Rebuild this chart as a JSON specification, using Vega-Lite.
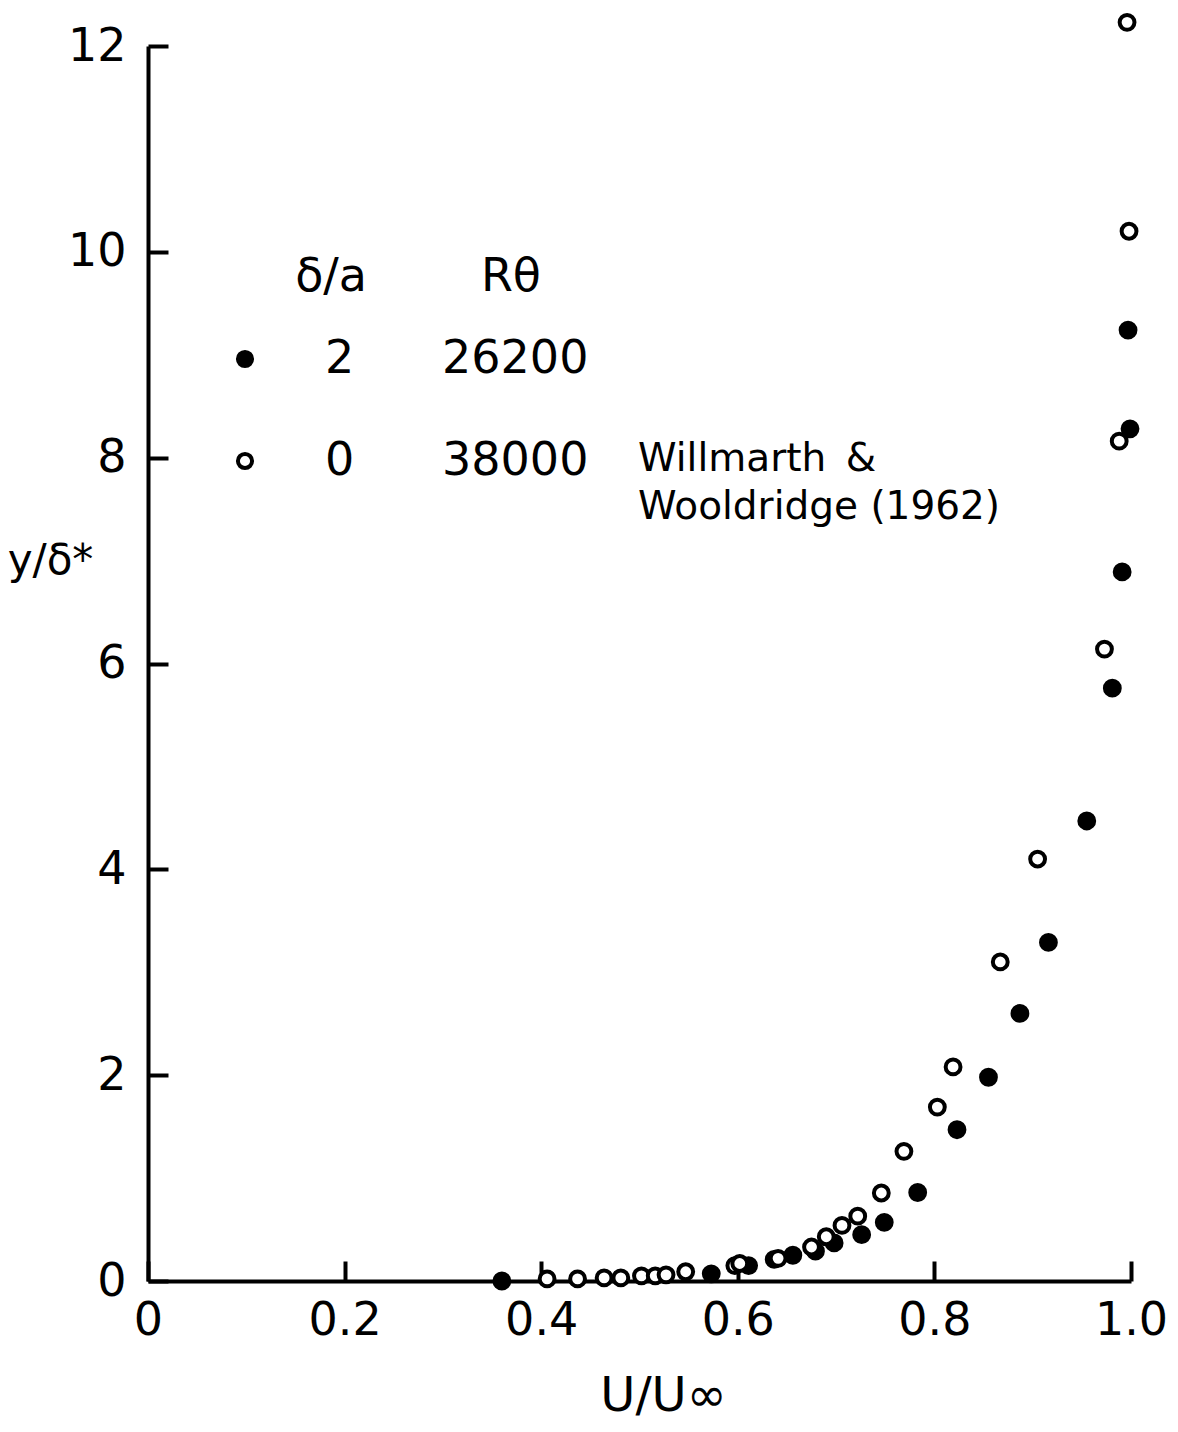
{
  "$schema": "https://vega.github.io/schema/vega-lite/v6.json",
  "autosize": {"type": "none"},
  "width": 983,
  "height": 1235,
  "padding": {"left": 148, "top": 46, "right": 47, "bottom": 151},
  "background": "white",
  "config": {
    "view": {"stroke": null},
    "font": "DejaVu Sans",
    "axis": {
      "grid": false,
      "domainColor": "black",
      "domainWidth": 4,
      "tickColor": "black",
      "tickWidth": 4,
      "tickSize": -20,
      "labelFontSize": 46,
      "labelColor": "black",
      "labelFlush": false,
      "labelOverlap": false,
      "labelBound": false,
      "titleFontSize": 48,
      "titleFontWeight": "normal",
      "titleColor": "black"
    }
  },
  "data": {
    "values": [
      {"u": 0.360, "y": 0.00, "da": "2"},
      {"u": 0.573, "y": 0.07, "da": "2"},
      {"u": 0.611, "y": 0.15, "da": "2"},
      {"u": 0.637, "y": 0.21, "da": "2"},
      {"u": 0.656, "y": 0.25, "da": "2"},
      {"u": 0.679, "y": 0.29, "da": "2"},
      {"u": 0.698, "y": 0.37, "da": "2"},
      {"u": 0.726, "y": 0.45, "da": "2"},
      {"u": 0.749, "y": 0.57, "da": "2"},
      {"u": 0.783, "y": 0.86, "da": "2"},
      {"u": 0.823, "y": 1.47, "da": "2"},
      {"u": 0.855, "y": 1.98, "da": "2"},
      {"u": 0.887, "y": 2.60, "da": "2"},
      {"u": 0.916, "y": 3.29, "da": "2"},
      {"u": 0.955, "y": 4.47, "da": "2"},
      {"u": 0.981, "y": 5.76, "da": "2"},
      {"u": 0.991, "y": 6.89, "da": "2"},
      {"u": 0.999, "y": 8.28, "da": "2"},
      {"u": 0.997, "y": 9.24, "da": "2"},
      {"u": 0.406, "y": 0.02, "da": "0"},
      {"u": 0.437, "y": 0.02, "da": "0"},
      {"u": 0.464, "y": 0.03, "da": "0"},
      {"u": 0.481, "y": 0.03, "da": "0"},
      {"u": 0.502, "y": 0.05, "da": "0"},
      {"u": 0.516, "y": 0.05, "da": "0"},
      {"u": 0.527, "y": 0.06, "da": "0"},
      {"u": 0.547, "y": 0.09, "da": "0"},
      {"u": 0.597, "y": 0.15, "da": "0"},
      {"u": 0.602, "y": 0.17, "da": "0"},
      {"u": 0.641, "y": 0.22, "da": "0"},
      {"u": 0.675, "y": 0.33, "da": "0"},
      {"u": 0.690, "y": 0.43, "da": "0"},
      {"u": 0.706, "y": 0.54, "da": "0"},
      {"u": 0.722, "y": 0.63, "da": "0"},
      {"u": 0.746, "y": 0.855, "da": "0"},
      {"u": 0.769, "y": 1.26, "da": "0"},
      {"u": 0.803, "y": 1.69, "da": "0"},
      {"u": 0.819, "y": 2.08, "da": "0"},
      {"u": 0.867, "y": 3.10, "da": "0"},
      {"u": 0.905, "y": 4.10, "da": "0"},
      {"u": 0.973, "y": 6.14, "da": "0"},
      {"u": 0.988, "y": 8.16, "da": "0"},
      {"u": 0.998, "y": 10.20, "da": "0"},
      {"u": 0.996, "y": 12.23, "da": "0"}
    ]
  },
  "layer": [
    {
      "mark": {"type": "point", "shape": "circle", "filled": true, "stroke": "black", "strokeWidth": 4, "size": 220, "opacity": 1},
      "encoding": {
        "x": {
          "field": "u", "type": "quantitative",
          "scale": {"domain": [0, 1], "nice": false, "zero": true},
          "axis": {
            "values": [0, 0.2, 0.4, 0.6, 0.8, 1.0],
            "labelExpr": "datum.value == 0 ? '0' : format(datum.value, '.1f')",
            "labelPadding": 37,
            "title": "U/U∞",
            "titleX": 515,
            "titleY": 129,
            "titleAlign": "center",
            "titleBaseline": "alphabetic"
          }
        },
        "y": {
          "field": "y", "type": "quantitative",
          "scale": {"domain": [0, 12], "nice": false},
          "axis": {
            "values": [0, 2, 4, 6, 8, 10, 12],
            "format": "d",
            "labelPadding": 42,
            "title": "y/δ*",
            "titleFontSize": 42,
            "titleAngle": 0,
            "titleX": -98,
            "titleY": 514,
            "titleAlign": "center",
            "titleBaseline": "middle"
          }
        },
        "fill": {
          "field": "da", "type": "nominal",
          "scale": {"domain": ["2", "0"], "range": ["black", "white"]},
          "legend": {
            "orient": "none",
            "legendX": 74,
            "legendY": 209,
            "padding": 0,
            "title": "\u200b\u2007\u2007\u00a0δ/a\u2007\u2007\u2007\u00a0\u2005Rθ",
            "titleFontSize": 46,
            "titleFontWeight": "normal",
            "titleColor": "black",
            "titlePadding": 35,
            "titleLimit": 600,
            "labelFontSize": 46,
            "labelColor": "black",
            "labelOffset": 57,
            "labelLimit": 600,
            "rowPadding": 56,
            "symbolType": "circle",
            "symbolSize": 200,
            "symbolStrokeWidth": 4,
            "symbolStrokeColor": "black",
            "labelExpr": "datum.label == '2' ? '2\u2007\u2007\u200726200' : '0\u2007\u2007\u200738000'"
          }
        }
      }
    },
    {
      "data": {"values": [{}]},
      "mark": {
        "type": "text",
        "text": ["Willmarth\u2002&", "Wooldridge (1962)"],
        "align": "left",
        "baseline": "alphabetic",
        "fontSize": 39,
        "lineHeight": 48,
        "color": "black",
        "font": "DejaVu Sans"
      },
      "encoding": {
        "x": {"datum": 0.4985, "type": "quantitative"},
        "y": {"datum": 7.87, "type": "quantitative"}
      }
    }
  ]
}
